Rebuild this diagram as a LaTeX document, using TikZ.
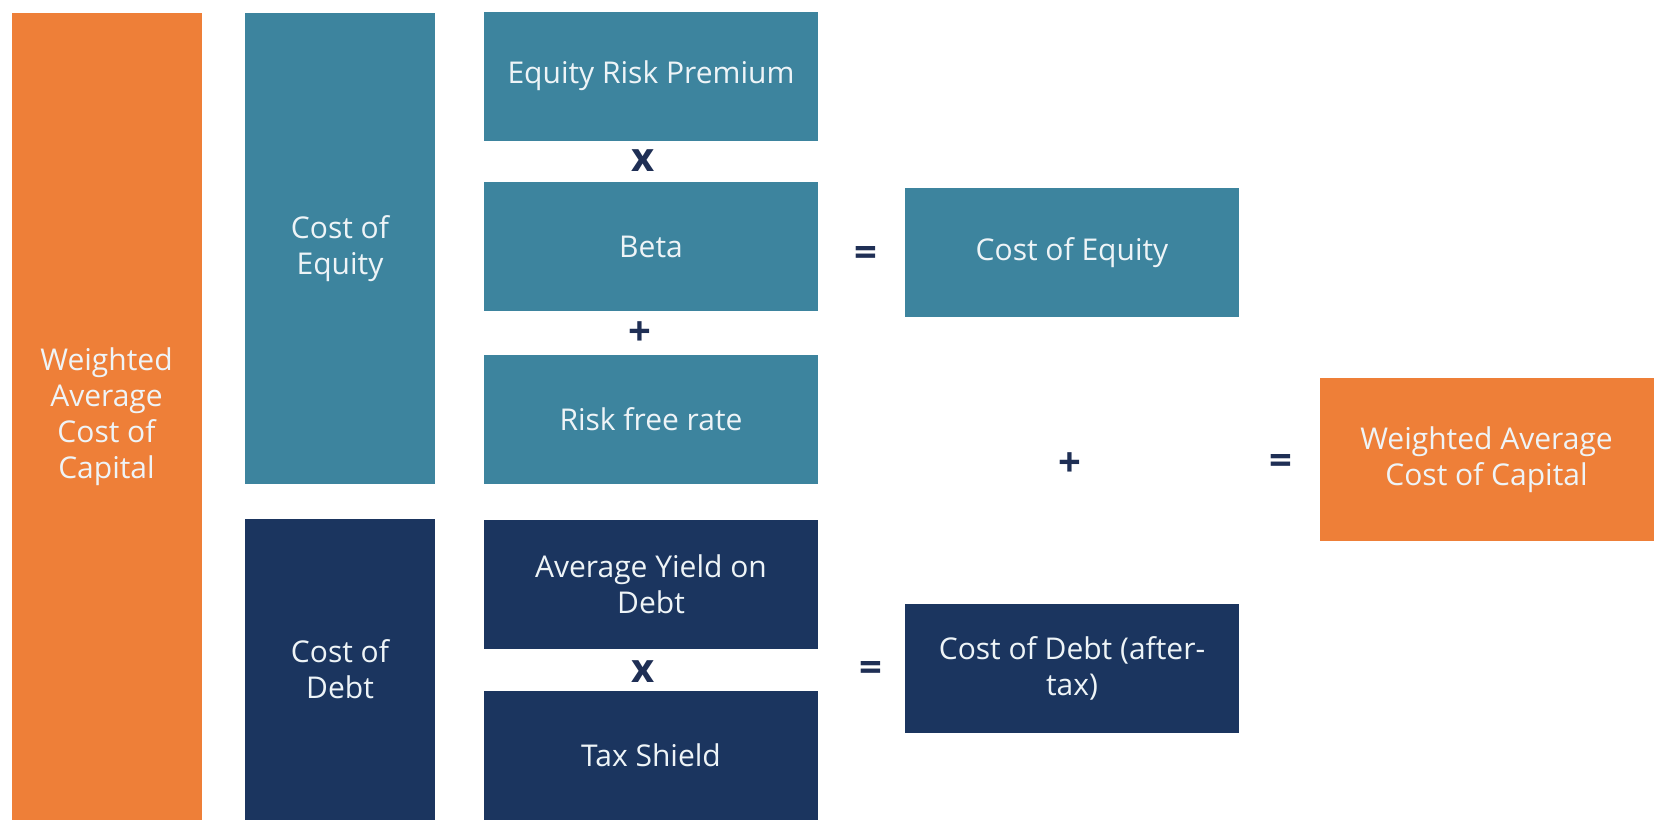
\documentclass[tikz,border=0pt]{standalone}
\usepackage{fontspec}
\setmainfont{Open Sans}
\definecolor{waccorange}{HTML}{EE7F38}
\definecolor{equityteal}{HTML}{3D849E}
\definecolor{debtnavy}{HTML}{1B355F}
\definecolor{optext}{HTML}{1F2F55}
\definecolor{boxtext}{HTML}{EEF4F7}
\begin{document}
\begin{tikzpicture}[x=0.5pt, y=-0.5pt]
			\tikzset{every node/.style={inner sep=0pt, align=center}}
			\tikzset{box/.style={rectangle, text=boxtext, font=\fontsize{15}{18}\selectfont, minimum width=167pt, minimum height=64.5pt}}
			\tikzset{bar/.style={box, minimum width=95pt}}
			\tikzset{op/.style={text=optext, font=\fontsize{20}{24}\selectfont\bfseries}}
			\useasboundingbox (0,0) rectangle (1668,836);
			% left column
			\node[bar, fill=waccorange, minimum height=403.5pt] (wacc) at (106.5,416.5) {Weighted\\Average\\Cost of\\Capital};
			\node[bar, fill=equityteal, minimum height=235.5pt] (coe) at (340,248.5) {Cost of\\Equity};
			\node[bar, fill=debtnavy, minimum height=150.5pt] (cod) at (340,669.5) {Cost of\\Debt};
			% inputs
			\node[box, fill=equityteal] (erp) at (651,76) {Equity Risk Premium};
			\node[box, fill=equityteal] (beta) at (651,246.5) {Beta};
			\node[box, fill=equityteal] (rfr) at (651,419) {Risk free rate};
			\node[box, fill=debtnavy] (yield) at (651,584.5) {Average Yield on\\Debt};
			\node[box, fill=debtnavy] (shield) at (651,755) {Tax Shield};
			% results
			\node[box, fill=equityteal] (coeres) at (1072,252.5) {Cost of Equity};
			\node[box, fill=debtnavy] (codres) at (1072,668) {Cost of Debt (after-\\tax)};
			\node[box, fill=waccorange, minimum height=81.5pt] (waccres) at (1486.5,459.5) {Weighted Average\\Cost of Capital};
			% operators
			\node[op] (times1) at (643,161) {x};
			\node[op] (plus1) at (640,334) {+};
			\node[op] (eq1) at (866,256) {=};
			\node[op] (times2) at (643,672) {x};
			\node[op] (eq2) at (871,671) {=};
			\node[op] (plus2) at (1070,465) {+};
			\node[op] (eq3) at (1281,464) {=};
		\end{tikzpicture}
\end{document}
